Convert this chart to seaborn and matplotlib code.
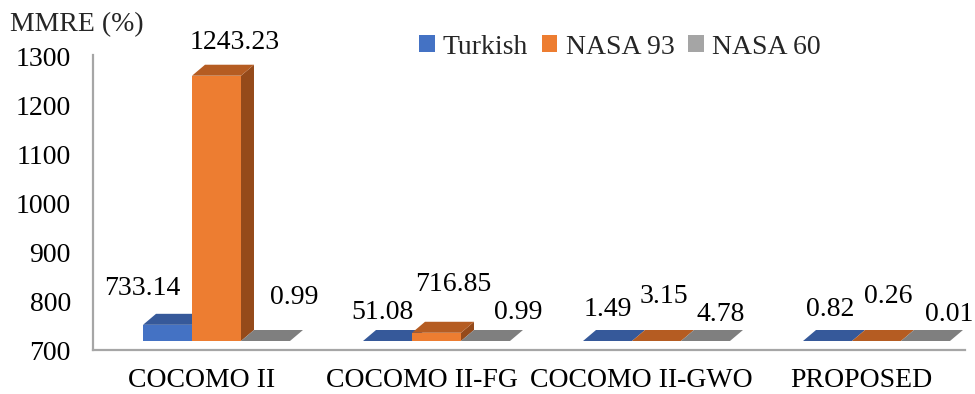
import numpy as np
import pandas as pd
import matplotlib
matplotlib.use("Agg")
import matplotlib.pyplot as plt
from matplotlib.patches import Polygon, Patch
import seaborn as sns

# ---- data ----
models = ["COCOMO II", "COCOMO II-FG", "COCOMO II-GWO", "PROPOSED"]
datasets = ["Turkish", "NASA 93", "NASA 60"]
turkish = [733.14, 51.08, 1.49, 0.82]
nasa93 = [1243.23, 716.85, 3.15, 0.26]
nasa60 = [0.99, 0.99, 4.78, 0.01]
y_ticks = [700, 800, 900, 1000, 1100, 1200, 1300]

# ---- styling ----
front_colors = ["#4472C4", "#ED7D31", "#A5A5A5"]
top_colors = ["#36599A", "#B55C22", "#7F7F7F"]
side_colors = ["#2C4A80", "#954A1A", "#6A6A6A"]
FS = 20

# value-label offsets in pixels (dx, dy) from the back edge of each bar's top
label_offsets = [
    [(-25, 25), (-5, 18), (0, 21), (3, 21)],
    [(18, 22), (17, 37), (7, 34), (12, 34)],
    [(29, 33), (33, 18), (15, 16), (24, 16)],
]

FLOOR = 700
FRONT_LIFT_PX = 9      # front plane sits above the axis line
DEPTH_X_PX = 13        # oblique depth of the bars
DEPTH_Y_PX = 11

sns.set_theme(style="white")
plt.rcParams["font.family"] = ["Liberation Serif", "DejaVu Serif"]
plt.rcParams["font.size"] = FS

df = pd.DataFrame({
    "Model": np.repeat(models, len(datasets)),
    "Dataset": datasets * len(models),
    "MMRE": [v for trio in zip(turkish, nasa93, nasa60) for v in trio],
})

W, H = 975, 394
fig = plt.figure(figsize=(W / 100, H / 100), dpi=100)
ax = fig.add_axes([93 / W, (H - 350) / H, 872 / W, 293 / H])

sns.barplot(data=df, x="Model", y="MMRE", hue="Dataset", order=models,
            hue_order=datasets, palette=front_colors, saturation=1,
            width=0.668, gap=0, legend=False, ax=ax)

xmin, xmax = (93 - 216.5) / 220, (965 - 216.5) / 220
ax.set_xlim(xmin, xmax)
ax.set_ylim(700, 1300)

ppx = ax.bbox.width / (xmax - xmin)
ppy = ax.bbox.height / 600
lift = FRONT_LIFT_PX / ppy
ddx = DEPTH_X_PX / ppx
ddy = DEPTH_Y_PX / ppy

series_of = {}
for j, cont in enumerate(ax.containers):
    for i, p in enumerate(cont.patches):
        series_of[id(p)] = (j, i)

bars = sorted(ax.patches, key=lambda p: p.get_x())
for k, p in enumerate(bars):
    j, i = series_of[id(p)]
    value = p.get_height()
    x, w = p.get_x(), p.get_width()
    yb = FLOOR + lift
    hh = max(value - FLOOR, 0)
    yt = yb + hh
    z = 3 + 3 * k
    if hh > 0:
        side = Polygon([(x + w, yb), (x + w + ddx, yb + ddy),
                        (x + w + ddx, yt + ddy), (x + w, yt)],
                       closed=True, facecolor=side_colors[j], edgecolor="none",
                       zorder=z, clip_on=False)
        ax.add_patch(side)
    top = Polygon([(x, yt), (x + w, yt), (x + w + ddx, yt + ddy), (x + ddx, yt + ddy)],
                  closed=True, facecolor=top_colors[j], edgecolor="none",
                  zorder=z + 1, clip_on=False)
    ax.add_patch(top)
    p.set_y(yb)
    p.set_height(hh)
    p.set_linewidth(0)
    p.set_zorder(z + 2)
    p.set_clip_on(False)

    odx, ody = label_offsets[j][i]
    ax.annotate(f"{value:.2f}", xy=(x + w / 2, yt + ddy), xytext=(odx, ody),
                textcoords="offset pixels", ha="center", va="center",
                fontsize=FS, color="black", annotation_clip=False, zorder=50)

# axes decoration
ax.set_yticks(y_ticks)
ax.set_yticklabels([str(t) for t in y_ticks])
shift = 15 / 220
ax.set_xticks(np.arange(len(models)) - shift)
ax.set_xticklabels(models)
ax.tick_params(axis="y", length=0, pad=16, labelsize=FS, labelcolor="black")
ax.tick_params(axis="x", length=0, pad=13, labelsize=FS, labelcolor="black")
ax.set_xlabel("")
ax.set_ylabel("")
for s in ["top", "right"]:
    ax.spines[s].set_visible(False)
for s in ["left", "bottom"]:
    ax.spines[s].set_color("#A6A6A6")
    ax.spines[s].set_linewidth(1.6)
ax.spines["left"].set_bounds(700, 1305)
ax.grid(False)

fig.text(10 / W, 1 - 25 / H, "MMRE (%)", ha="left", va="center", fontsize=FS)

handles = [Patch(facecolor=c, edgecolor="none", label=l) for c, l in zip(front_colors, datasets)]
fig.legend(handles=handles, loc="center", bbox_to_anchor=(620 / W, 1 - 47 / H),
           ncol=3, frameon=False, fontsize=FS, handlelength=0.55, handleheight=0.55,
           handletextpad=0.3, columnspacing=0.5, borderaxespad=0)

fig.savefig("out.png", dpi=100)
